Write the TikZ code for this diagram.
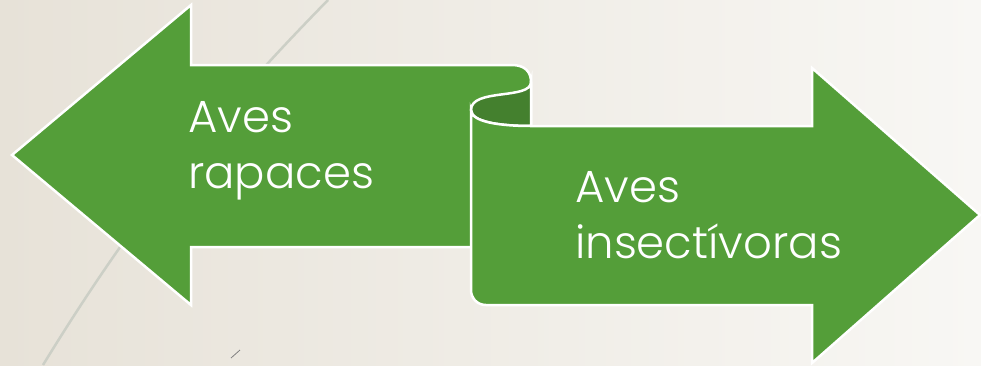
\documentclass[tikz,border=0pt]{standalone}
\usepackage{fontspec}
\setmainfont{Poppins}[UprightFont=* Light]
\definecolor{arrowgreen}{RGB}{84,158,57}
\definecolor{curlgreen}{RGB}{68,128,46}
\definecolor{bgleft}{RGB}{231,226,216}
\definecolor{bgright}{RGB}{248,247,244}
\definecolor{arcgray}{RGB}{204,207,198}
\begin{document}
\begin{tikzpicture}[x=1pt,y=-1pt,
    arrowbody/.style={fill=arrowgreen,draw=white,line width=2.5pt},
    curlback/.style={fill=curlgreen,draw=white,line width=2.5pt},
    arrowtext/.style={text=white,font=\fontsize{45}{56}\selectfont,align=left,anchor=north west,inner sep=0pt}]
        % slide background
        \fill[left color=bgleft,right color=bgright] (0,0) rectangle (981,365);
        \useasboundingbox (0,0) rectangle (981,365);
        \draw[arcgray,line width=2.5pt] (43,365) .. controls (150,190) and (240,90) .. (328,0);
        \draw[gray,line width=0.8pt] (231,358) -- (240,350);
        % left arrow with the rolled end
        \draw[arrowbody] (12,155) -- (191,5) -- (191,65) -- (512,65) .. controls (525,65) and (531,72) .. (531,82)
          -- (531,247) -- (191,247) -- (191,305) -- cycle;
        \draw[curlback] (531,82) .. controls (531,100) and (471,88) .. (471,110)
          .. controls (471,122) and (500,126) .. (531,126) -- cycle;
        % right arrow
        \draw[arrowbody] (471,110) -- (471,290) .. controls (471,298) and (477,305) .. (486,305) -- (812,305)
          -- (812,363) -- (980,215) -- (812,68) -- (812,126) -- (531,126)
          .. controls (500,126) and (471,122) .. (471,110) -- cycle;
        \node[arrowtext] (rapaces) at (188,101) {Aves\\rapaces};
        \node[arrowtext] (insect) at (575,171) {Aves\\insectívoras};
      \end{tikzpicture}
\end{document}
